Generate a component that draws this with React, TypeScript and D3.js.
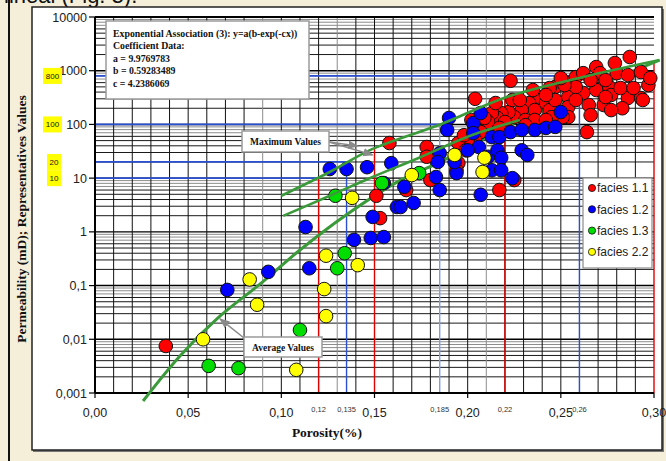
import React from "react";
import * as d3 from "d3";

// ---------- data ----------
const facies11: [number, number][] = [
  [0.038, 0.0075], [0.158, 45], [0.151, 4.7], [0.153, 1.8], [0.223, 650], [0.204, 300],
  [0.287, 1800], [0.269, 1170], [0.258, 760], [0.262, 900], [0.271, 900], [0.28, 900],
  [0.286, 830], [0.293, 945], [0.297, 540], [0.286, 310], [0.283, 200], [0.293, 310],
  [0.273, 230], [0.265, 230], [0.262, 385], [0.269, 437], [0.276, 497], [0.264, 72],
  [0.247, 500], [0.251, 670], [0.244, 476], [0.238, 324], [0.233, 250], [0.236, 185],
  [0.242, 250], [0.244, 185], [0.247, 285], [0.254, 324], [0.254, 211], [0.258, 497],
  [0.254, 137], [0.251, 137], [0.245, 137], [0.229, 185], [0.225, 137], [0.231, 121],
  [0.236, 121], [0.222, 170], [0.218, 163], [0.216, 132], [0.213, 163], [0.22, 111],
  [0.211, 111], [0.207, 72], [0.204, 51], [0.2, 51], [0.195, 45], [0.195, 19],
  [0.194, 14], [0.178, 38], [0.178, 25], [0.18, 9.2], [0.217, 6.0], [0.225, 9.2],
  [0.167, 6.0], [0.198, 63], [0.209, 132], [0.215, 250], [0.224, 285], [0.228, 285],
  [0.242, 353], [0.252, 540], [0.266, 670], [0.274, 670], [0.277, 353], [0.282, 476],
  [0.289, 476], [0.279, 1390], [0.258, 285], [0.274, 324], [0.231, 97], [0.242, 121],
  [0.217, 86], [0.199, 33], [0.202, 121], [0.298, 730], [0.294, 285], [0.266, 149],
  [0.235, 437], [0.25, 730], [0.277, 185],
];
const facies12: [number, number][] = [
  [0.071, 0.083], [0.093, 0.18], [0.115, 0.21], [0.113, 1.23], [0.126, 14.8], [0.135, 14.8],
  [0.146, 16], [0.159, 19], [0.139, 0.71], [0.148, 0.77], [0.155, 0.8], [0.149, 1.9],
  [0.155, 8.1], [0.162, 2.9], [0.19, 132], [0.189, 79], [0.203, 106], [0.203, 69],
  [0.207, 163], [0.213, 58], [0.217, 58], [0.223, 72], [0.229, 79], [0.236, 79],
  [0.242, 86], [0.247, 90], [0.25, 170], [0.206, 38], [0.2, 33], [0.211, 25],
  [0.216, 33], [0.218, 24], [0.213, 14], [0.218, 14], [0.224, 10], [0.229, 33],
  [0.232, 27], [0.185, 29], [0.184, 20], [0.183, 10.5], [0.185, 6.0], [0.194, 12.4],
  [0.193, 20], [0.164, 2.9], [0.171, 3.45], [0.166, 6.9], [0.207, 4.9],
];
const facies13: [number, number][] = [
  [0.061, 0.0032], [0.077, 0.0029], [0.11, 0.0149], [0.13, 0.21], [0.134, 0.4],
  [0.129, 4.7], [0.154, 8.1], [0.174, 12.4],
];
const facies22: [number, number][] = [
  [0.058, 0.01], [0.083, 0.13], [0.087, 0.044], [0.108, 0.0027], [0.123, 0.086],
  [0.124, 0.027], [0.124, 0.36], [0.141, 0.24], [0.138, 4.3], [0.17, 11.4],
  [0.193, 27], [0.209, 24], [0.208, 13],
];

const seriesNames = ["facies 1.1", "facies 1.2", "facies 1.3", "facies 2.2"];
const seriesColors = ["#ff0000", "#0000ff", "#00dd00", "#ffff00"];

// curves
const averageCurve: [number, number][] = [
  [0.0258, 0.00071], [0.0456, 0.0049], [0.066, 0.025], [0.09, 0.117], [0.11, 0.46],
  [0.134, 1.98], [0.164, 9.2], [0.184, 19], [0.221, 90], [0.262, 400], [0.303, 1580],
];
const maxCurveA: [number, number][] = [
  [0.1, 4.7], [0.126, 13], [0.149, 35], [0.186, 102], [0.221, 324], [0.262, 763], [0.303, 1580],
];
const maxCurveB: [number, number][] = [
  [0.101, 1.98], [0.126, 4.7], [0.149, 10.5], [0.174, 24], [0.201, 61], [0.228, 121],
];

// reference lines
const vRefX = [0.12, 0.135, 0.15, 0.185, 0.22, 0.26, 0.3];
const vRefTop = [10, 20, 36, 100, 324, 800, 1500];
const vRefColor = ["#e00000", "#2a4fd0", "#e00000", "#7f9be8", "#e00000", "#2a4fd0", "#e00000"];
const hRefY = [10, 20, 100, 800];
const hRefTo = [0.12, 0.135, 0.185, 0.26];

const xTicks = [0, 0.05, 0.1, 0.15, 0.2, 0.25, 0.3];
const xTickLabels = ["0,00", "0,05", "0,10", "0,15", "0,20", "0,25", "0,30"];
const xSmallTicks = [0.12, 0.135, 0.185, 0.22, 0.26];
const xSmallLabels = ["0,12", "0,135", "0,185", "0,22", "0,26"];
const yTicks = [0.001, 0.01, 0.1, 1, 10, 100, 1000, 10000];
const yTickLabels = ["0,001", "0,01", "0,1", "1", "10", "100", "1000", "10000"];
const yMarkValues = [800, 100, 20, 10];
const yMarkLabels = ["800", "100", "20", "10"];

const fitLines = [
  "Exponential Association (3): y=a(b-exp(-cx))",
  "Coefficient Data:",
  "a = 9.9769783",
  "b = 0.59283489",
  "c = 4.2386069",
];

export default function App() {
  const W = 666, H = 461;
  const x = d3.scaleLinear().domain([0, 0.3]).range([95, 654]);
  const y = d3.scaleLog().domain([0.001, 10000]).range([393, 17]);

  const line = d3
    .line<[number, number]>()
    .x((d) => x(d[0]))
    .y((d) => y(d[1]))
    .curve(d3.curveCatmullRom.alpha(0.5));

  const grayV = [0.09, 0.13, 0.21];
  const vGrid = d3.range(1, 30).map((i) => i / 100);
  const hGrid: { v: number; m: number }[] = [];
  for (let e = -3; e < 4; e++) {
    for (let m = 1; m <= 9; m++) hGrid.push({ v: m * Math.pow(10, e), m });
  }

  const allSeries = [facies11, facies12, facies13, facies22];
  const serif = "'Liberation Serif', 'Times New Roman', serif";
  const sans = "'Liberation Sans', Arial, sans-serif";

  return (
    <svg width={W} height={H} style={{ position: "absolute", left: 0, top: 0 }}>
      <defs>
        <marker id="arr" viewBox="0 0 10 10" refX="9" refY="5" markerWidth="7" markerHeight="7" orient="auto">
          <path d="M0,1 L10,5 L0,9 z" fill="#8a8a8a" />
        </marker>
      </defs>
      {/* page background */}
      <rect x={0} y={0} width={W} height={H} fill="#f5efd9" />
      <text x={4} y={3} fontFamily={sans} fontSize={22} fill="#111">lineal (Fig. 3).</text>
      <line x1={9} x2={9} y1={0} y2={H} stroke="#111" strokeWidth={2} />
      {/* chart box */}
      <rect x={33} y={9} width={631} height={443} fill="#777" />
      <rect x={32} y={7} width={630} height={443} fill="#ffffff" stroke="#222" strokeWidth={1.5} />

      {/* horizontal grid */}
      {hGrid.map((g, i) => (
        <line key={"h" + i} x1={95} x2={654} y1={y(g.v)} y2={y(g.v)}
          stroke={g.m === 1 ? "#000" : g.m >= 7 ? "#8c8c8c" : "#1a1a1a"}
          strokeWidth={g.m === 1 ? 1.4 : 1} />
      ))}
      {/* vertical grid */}
      {vGrid.map((v, i) => (
        <line key={"v" + i} x1={x(v)} x2={x(v)} y1={17} y2={393}
          stroke={grayV.some((g) => Math.abs(g - v) < 1e-6) ? "#8c8c8c" : "#111"} strokeWidth={1} />
      ))}

      {/* reference lines */}
      {hRefY.map((v, i) => (
        <line key={"hr" + i} x1={x(0)} x2={x(hRefTo[i])} y1={y(v)} y2={y(v)} stroke="#2a4fd0" strokeWidth={1.8} />
      ))}
      {vRefX.map((v, i) => (
        <line key={"vr" + i} x1={x(v)} x2={x(v)} y1={y(0.001)} y2={y(vRefTop[i])} stroke={vRefColor[i]} strokeWidth={1.4} />
      ))}

      {/* axes frame */}
      <line x1={95} x2={654} y1={17} y2={17} stroke="#000" strokeWidth={2} />
      <line x1={95} x2={95} y1={17} y2={393} stroke="#000" strokeWidth={2} />
      <line x1={95} x2={654} y1={393} y2={393} stroke="#000" strokeWidth={2} />

      {/* average curve below points */}
      <path d={line(averageCurve) || ""} fill="none" stroke="#3a9a3a" strokeWidth={3} />

      {/* points */}
      {allSeries.map((s, si) =>
        s.map((d, i) => (
          <circle key={si + "-" + i} cx={x(d[0])} cy={y(d[1])} r={6.8}
            fill={seriesColors[si]} stroke="#111" strokeWidth={1} />
        ))
      )}

      {/* maximum curves */}
      <path d={line(maxCurveA) || ""} fill="none" stroke="#3a9a3a" strokeWidth={2.6} />
      <path d={line(maxCurveB) || ""} fill="none" stroke="#3a9a3a" strokeWidth={2.6} />

      {/* ticks */}
      {yTicks.map((t, i) => (
        <g key={"yt" + i}>
          <line x1={89} x2={95} y1={y(t)} y2={y(t)} stroke="#000" strokeWidth={1.2} />
          <text x={87} y={y(t) + 4.5} textAnchor="end" fontFamily={sans} fontSize={12.5} fill="#222">
            {yTickLabels[i]}
          </text>
        </g>
      ))}
      {xTicks.map((t, i) => (
        <g key={"xt" + i}>
          <line x1={x(t)} x2={x(t)} y1={393} y2={398} stroke="#000" strokeWidth={1.2} />
          <text x={x(t)} y={417} textAnchor="middle" fontFamily={sans} fontSize={12.5} fill="#222">
            {xTickLabels[i]}
          </text>
        </g>
      ))}
      {xSmallTicks.map((t, i) => (
        <text key={"xs" + i} x={x(t)} y={412} textAnchor="middle" fontFamily={sans} fontSize={7.5} fill="#333">
          {xSmallLabels[i]}
        </text>
      ))}

      {/* yellow value marks */}
      {yMarkValues.map((v, i) => (
        <g key={"ym" + i}>
          <rect x={yMarkLabels[i].length === 3 ? 43 : 47} y={y(v) - 8} width={yMarkLabels[i].length === 3 ? 19 : 14} height={16} fill="#ffff00" />
          <text x={yMarkLabels[i].length === 3 ? 52.5 : 54} y={y(v) + 3} textAnchor="middle" fontFamily={sans} fontSize={8} fill="#111">
            {yMarkLabels[i]}
          </text>
        </g>
      ))}

      {/* axis titles */}
      <text x={327} y={437} textAnchor="middle" fontFamily={serif} fontWeight="bold" fontSize={13.5} fill="#111">
        Porosity(%)
      </text>
      <text transform="translate(26,219) rotate(-90)" textAnchor="middle" fontFamily={serif} fontWeight="bold" fontSize={13.5} fill="#111">
        Permeability (mD); Representatives Values
      </text>

      {/* fit box */}
      <rect x={106} y={21} width={203} height={78} fill="#fff" stroke="#9a9a9a" strokeWidth={1.5} />
      {fitLines.map((t, i) => (
        <text key={"f" + i} x={113} y={37 + i * 12.4} fontFamily={serif} fontWeight="bold" fontSize={9.8} fill="#111">
          {t}
        </text>
      ))}

      {/* annotations */}
      <line x1={329} y1={142} x2={x(0.141)} y2={y(39.6)} stroke="#8a8a8a" strokeWidth={1.5} markerEnd="url(#arr)" />
      <line x1={329} y1={142} x2={x(0.149)} y2={y(27)} stroke="#8a8a8a" strokeWidth={1.5} markerEnd="url(#arr)" />
      <rect x={242} y={131} width={87} height={21} fill="#fff" stroke="#9a9a9a" strokeWidth={1.5} />
      <text x={285.5} y={145} textAnchor="middle" fontFamily={serif} fontWeight="bold" fontSize={9.5} fill="#111">
        Maximum Values
      </text>

      <line x1={244} y1={338} x2={x(averageCurve[2][0]) + 2} y2={y(averageCurve[2][1]) + 1} stroke="#8a8a8a" strokeWidth={1.5} markerEnd="url(#arr)" />
      <rect x={244} y={337} width={78} height={20} fill="#fff" stroke="#9a9a9a" strokeWidth={1.5} />
      <text x={283} y={350.5} textAnchor="middle" fontFamily={serif} fontWeight="bold" fontSize={9.5} fill="#111">
        Average Values
      </text>

      {/* legend */}
      <rect x={583} y={178} width={69} height={90} fill="#fff" stroke="#8a8a8a" strokeWidth={1.2} />
      {seriesNames.map((n, i) => (
        <g key={"lg" + i}>
          <circle cx={592} cy={188 + i * 21.3} r={3.6} fill={seriesColors[i]} stroke="#111" strokeWidth={0.8} />
          <text x={597} y={192.3 + i * 21.3} fontFamily={sans} fontSize={12} fill="#222">{n}</text>
        </g>
      ))}
    </svg>
  );
}
